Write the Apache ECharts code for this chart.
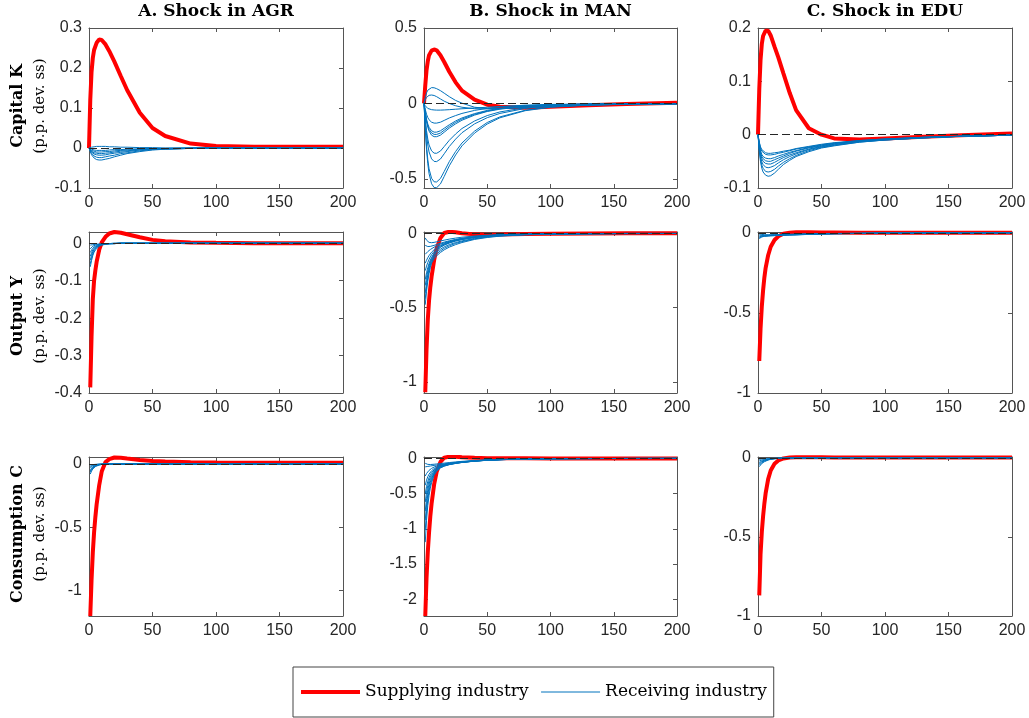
<!DOCTYPE html>
<html>
<head>
<meta charset="utf-8">
<title>Impulse responses</title>
<script src="https://cdn.jsdelivr.net/npm/echarts@6.0.0/dist/echarts.min.js"></script>
<style>
html, body { margin: 0; padding: 0; background: #fff; }
#chart { width: 1029px; height: 718px; }
</style>
</head>
<body>
<div id="chart"></div>
<script>
// periods: capital is plotted from 0, output and consumption from 1
const periodsK = [0, 1, 2, 3, 4, 6, 8, 10, 13, 16, 20, 25, 30, 40, 50, 60, 80, 100, 130, 160, 200];
const periods = [1, 2, 3, 4, 5, 6, 8, 10, 13, 16, 20, 25, 30, 40, 50, 60, 80, 100, 130, 160, 200];

const shockTitles = ['A. Shock in AGR', 'B. Shock in MAN', 'C. Shock in EDU'];
const rowTitles = ['Capital K', 'Output Y', 'Consumption C'];
const rowUnit = '(p.p. dev. ss)';

// y tick labels
const ticksKAgr = [-0.1, 0, 0.1, 0.2, 0.3];
const ticksKMan = [-0.5, 0, 0.5];
const ticksKEdu = [-0.1, 0, 0.1, 0.2];
const ticksYAgr = [-0.4, -0.3, -0.2, -0.1, 0];
const ticksYMan = [-1, -0.5, 0];
const ticksYEdu = [-1, -0.5, 0];
const ticksCAgr = [-1, -0.5, 0];
const ticksCMan = [-2, -1.5, -1, -0.5, 0];
const ticksCEdu = [-1, -0.5, 0];

// ---- Capital K ----
const kAgrSupply = [0, 0.12, 0.19, 0.225, 0.245, 0.263, 0.271, 0.27, 0.259, 0.242, 0.216, 0.18, 0.145, 0.088, 0.05, 0.03, 0.011, 0.005, 0.003, 0.003, 0.003];
const kAgrReceive = [
  [0, 0.001, 0.002, 0.003, 0.003, 0.004, 0.004, 0.004, 0.004, 0.003, 0.003, 0.002, 0.002, 0.001, 0.001, 0, 0, 0, 0, 0, 0],
  [0, -0.002, -0.003, -0.004, -0.005, -0.006, -0.006, -0.006, -0.006, -0.005, -0.004, -0.004, -0.003, -0.002, -0.001, -0.001, 0, 0, 0, 0, 0],
  [0, -0.003, -0.006, -0.007, -0.008, -0.01, -0.01, -0.01, -0.009, -0.009, -0.007, -0.006, -0.005, -0.003, -0.002, -0.001, 0, 0, 0, 0, 0],
  [0, -0.004, -0.008, -0.01, -0.012, -0.013, -0.014, -0.014, -0.013, -0.012, -0.01, -0.008, -0.007, -0.004, -0.003, -0.002, -0.001, 0, 0, 0, 0],
  [0, -0.005, -0.01, -0.013, -0.015, -0.017, -0.018, -0.018, -0.017, -0.015, -0.013, -0.011, -0.009, -0.005, -0.003, -0.002, -0.001, 0, 0, 0, 0],
  [0, -0.007, -0.013, -0.017, -0.02, -0.023, -0.024, -0.024, -0.022, -0.02, -0.018, -0.014, -0.012, -0.007, -0.004, -0.003, -0.001, 0, 0, 0, 0],
  [0, -0.009, -0.017, -0.022, -0.025, -0.029, -0.03, -0.03, -0.028, -0.026, -0.022, -0.018, -0.014, -0.009, -0.005, -0.003, -0.001, 0, 0, 0, 0]
];

const kManSupply = [0, 0.12, 0.22, 0.28, 0.32, 0.35, 0.358, 0.352, 0.32, 0.275, 0.21, 0.14, 0.085, 0.025, -0.008, -0.022, -0.028, -0.022, -0.012, -0.004, 0.004];
const kManReceive = [
  [0, 0.04, 0.07, 0.088, 0.098, 0.105, 0.104, 0.098, 0.085, 0.068, 0.045, 0.02, 0.002, -0.025, -0.033, -0.032, -0.025, -0.018, -0.01, -0.005, -0.002],
  [0, 0.025, 0.04, 0.05, 0.054, 0.056, 0.053, 0.045, 0.03, 0.015, 0, -0.015, -0.025, -0.035, -0.036, -0.034, -0.027, -0.02, -0.011, -0.005, -0.002],
  [0, -0.015, -0.026, -0.033, -0.037, -0.041, -0.043, -0.044, -0.044, -0.043, -0.041, -0.038, -0.035, -0.03, -0.025, -0.02, -0.014, -0.01, -0.006, -0.003, -0.001],
  [0, -0.039, -0.071, -0.093, -0.108, -0.124, -0.13, -0.13, -0.124, -0.112, -0.096, -0.08, -0.066, -0.046, -0.032, -0.022, -0.011, -0.006, -0.003, -0.001, -0.001],
  [0, -0.057, -0.104, -0.136, -0.158, -0.181, -0.19, -0.19, -0.181, -0.164, -0.141, -0.116, -0.096, -0.067, -0.046, -0.032, -0.016, -0.009, -0.004, -0.002, -0.001],
  [0, -0.062, -0.112, -0.147, -0.171, -0.195, -0.205, -0.205, -0.196, -0.177, -0.152, -0.125, -0.103, -0.072, -0.05, -0.035, -0.018, -0.009, -0.004, -0.002, -0.001],
  [0, -0.066, -0.12, -0.157, -0.183, -0.21, -0.22, -0.22, -0.21, -0.19, -0.163, -0.135, -0.111, -0.077, -0.053, -0.038, -0.019, -0.01, -0.004, -0.002, -0.001],
  [0, -0.099, -0.18, -0.236, -0.275, -0.314, -0.329, -0.33, -0.315, -0.285, -0.244, -0.202, -0.166, -0.116, -0.08, -0.056, -0.028, -0.015, -0.007, -0.003, -0.001],
  [0, -0.116, -0.21, -0.275, -0.321, -0.367, -0.384, -0.385, -0.368, -0.333, -0.285, -0.236, -0.194, -0.135, -0.094, -0.066, -0.033, -0.017, -0.008, -0.003, -0.002],
  [0, -0.156, -0.283, -0.372, -0.433, -0.496, -0.519, -0.52, -0.497, -0.45, -0.385, -0.318, -0.262, -0.183, -0.126, -0.089, -0.045, -0.023, -0.01, -0.005, -0.002],
  [0, -0.167, -0.304, -0.399, -0.465, -0.532, -0.557, -0.558, -0.533, -0.483, -0.413, -0.341, -0.281, -0.196, -0.136, -0.095, -0.048, -0.025, -0.011, -0.005, -0.002]
];

const kEduSupply = [0, 0.085, 0.14, 0.17, 0.185, 0.195, 0.195, 0.186, 0.165, 0.145, 0.115, 0.078, 0.046, 0.012, 0, -0.007, -0.009, -0.007, -0.004, -0.001, 0.002];
const kEduReceive = [
  [0, -0.014, -0.023, -0.028, -0.031, -0.034, -0.035, -0.035, -0.034, -0.033, -0.031, -0.029, -0.026, -0.022, -0.018, -0.015, -0.011, -0.008, -0.005, -0.003, -0.001],
  [0, -0.015, -0.025, -0.031, -0.034, -0.037, -0.038, -0.038, -0.037, -0.035, -0.033, -0.03, -0.027, -0.023, -0.019, -0.016, -0.011, -0.008, -0.005, -0.003, -0.001],
  [0, -0.018, -0.03, -0.037, -0.041, -0.044, -0.045, -0.045, -0.043, -0.04, -0.037, -0.033, -0.03, -0.024, -0.02, -0.016, -0.012, -0.009, -0.005, -0.003, -0.001],
  [0, -0.02, -0.033, -0.041, -0.045, -0.049, -0.05, -0.05, -0.047, -0.044, -0.04, -0.035, -0.031, -0.025, -0.021, -0.017, -0.012, -0.009, -0.005, -0.003, -0.001],
  [0, -0.022, -0.036, -0.045, -0.05, -0.054, -0.055, -0.055, -0.052, -0.048, -0.043, -0.038, -0.034, -0.027, -0.022, -0.018, -0.013, -0.009, -0.006, -0.003, -0.001],
  [0, -0.025, -0.041, -0.051, -0.056, -0.061, -0.062, -0.061, -0.058, -0.053, -0.047, -0.041, -0.036, -0.028, -0.023, -0.019, -0.013, -0.01, -0.006, -0.003, -0.001],
  [0, -0.028, -0.046, -0.057, -0.063, -0.069, -0.07, -0.069, -0.065, -0.059, -0.052, -0.045, -0.039, -0.03, -0.024, -0.02, -0.014, -0.01, -0.006, -0.003, -0.001],
  [0, -0.031, -0.051, -0.063, -0.07, -0.076, -0.078, -0.077, -0.072, -0.065, -0.056, -0.048, -0.041, -0.032, -0.025, -0.021, -0.014, -0.01, -0.006, -0.003, -0.001]
];

// ---- Output Y ----
const yAgrSupply = [-0.385, -0.25, -0.15, -0.1, -0.073, -0.05, -0.018, 0.002, 0.017, 0.026, 0.03, 0.028, 0.024, 0.016, 0.009, 0.005, 0.002, 0.001, 0, 0, 0];
const yAgrReceive = [
  [-0.005, -0.004, -0.004, -0.003, -0.003, -0.003, -0.002, -0.002, -0.001, -0.001, 0, 0, 0, 0, 0, 0, 0, 0, 0, 0, 0],
  [-0.015, -0.011, -0.008, -0.007, -0.005, -0.004, -0.003, -0.002, -0.001, -0.001, 0, 0, 0, 0, 0, 0, 0, 0, 0, 0, 0],
  [-0.025, -0.018, -0.013, -0.01, -0.008, -0.006, -0.004, -0.003, -0.002, -0.001, -0.001, 0, 0, 0, 0, 0, 0, 0, 0, 0, 0],
  [-0.035, -0.025, -0.018, -0.013, -0.01, -0.008, -0.005, -0.003, -0.002, -0.001, -0.001, 0, 0, 0, 0, 0, 0, 0, 0, 0, 0],
  [-0.045, -0.032, -0.023, -0.017, -0.012, -0.009, -0.006, -0.004, -0.002, -0.001, -0.001, 0, 0, 0, 0, 0, 0, 0, 0, 0, 0],
  [-0.055, -0.04, -0.028, -0.02, -0.015, -0.011, -0.007, -0.004, -0.002, -0.001, -0.001, 0, 0, 0, 0, 0, 0, 0, 0, 0, 0],
  [-0.063, -0.046, -0.033, -0.024, -0.018, -0.013, -0.008, -0.005, -0.003, -0.002, -0.001, 0, 0, 0, 0, 0, 0, 0, 0, 0, 0]
];

const yManSupply = [-1.07, -0.78, -0.58, -0.45, -0.36, -0.29, -0.18, -0.1, -0.03, 0.003, 0.012, 0.008, 0.002, -0.006, -0.008, -0.007, -0.004, -0.002, 0, 0.001, 0.002];
const yManReceive = [
  [-0.03, -0.045, -0.055, -0.06, -0.062, -0.062, -0.06, -0.056, -0.05, -0.045, -0.038, -0.031, -0.025, -0.017, -0.012, -0.008, -0.004, -0.002, -0.001, 0, 0],
  [-0.08, -0.085, -0.088, -0.088, -0.087, -0.085, -0.08, -0.074, -0.066, -0.058, -0.049, -0.04, -0.032, -0.021, -0.014, -0.01, -0.005, -0.002, -0.001, 0, 0],
  [-0.14, -0.13, -0.122, -0.115, -0.108, -0.102, -0.092, -0.083, -0.072, -0.063, -0.053, -0.043, -0.035, -0.023, -0.015, -0.01, -0.005, -0.003, -0.001, 0, 0],
  [-0.2, -0.18, -0.163, -0.149, -0.137, -0.126, -0.109, -0.095, -0.08, -0.068, -0.056, -0.045, -0.036, -0.024, -0.016, -0.011, -0.005, -0.003, -0.001, 0, 0],
  [-0.25, -0.22, -0.195, -0.175, -0.158, -0.143, -0.12, -0.103, -0.085, -0.072, -0.059, -0.047, -0.038, -0.025, -0.017, -0.011, -0.005, -0.003, -0.001, 0, 0],
  [-0.31, -0.265, -0.23, -0.202, -0.18, -0.161, -0.133, -0.113, -0.092, -0.077, -0.063, -0.05, -0.04, -0.026, -0.017, -0.012, -0.006, -0.003, -0.001, 0, 0],
  [-0.35, -0.295, -0.252, -0.218, -0.191, -0.169, -0.137, -0.115, -0.093, -0.078, -0.064, -0.051, -0.041, -0.027, -0.018, -0.012, -0.006, -0.003, -0.001, 0, 0],
  [-0.4, -0.33, -0.277, -0.236, -0.204, -0.178, -0.147, -0.126, -0.106, -0.09, -0.075, -0.061, -0.05, -0.033, -0.022, -0.015, -0.007, -0.003, -0.001, 0, 0],
  [-0.44, -0.36, -0.3, -0.253, -0.217, -0.188, -0.158, -0.138, -0.117, -0.1, -0.083, -0.067, -0.055, -0.036, -0.024, -0.016, -0.008, -0.004, -0.002, -0.001, 0],
  [-0.48, -0.39, -0.322, -0.27, -0.23, -0.2, -0.17, -0.15, -0.128, -0.11, -0.092, -0.075, -0.061, -0.04, -0.027, -0.018, -0.009, -0.004, -0.002, -0.001, 0]
];

const yEduSupply = [-0.8, -0.6, -0.46, -0.36, -0.28, -0.22, -0.14, -0.087, -0.045, -0.022, -0.006, 0.001, 0.003, 0.003, 0.002, 0.002, 0.001, 0.001, 0.001, 0.001, 0.001];
const yEduReceive = [
  [-0.005, -0.008, -0.01, -0.011, -0.012, -0.012, -0.012, -0.012, -0.011, -0.011, -0.01, -0.009, -0.008, -0.006, -0.005, -0.004, -0.003, -0.002, -0.001, -0.001, 0],
  [-0.012, -0.014, -0.015, -0.015, -0.015, -0.015, -0.015, -0.014, -0.013, -0.013, -0.012, -0.011, -0.01, -0.008, -0.006, -0.005, -0.003, -0.002, -0.001, -0.001, 0],
  [-0.02, -0.019, -0.018, -0.018, -0.018, -0.017, -0.017, -0.016, -0.015, -0.014, -0.013, -0.012, -0.011, -0.009, -0.007, -0.005, -0.003, -0.002, -0.001, -0.001, 0],
  [-0.026, -0.023, -0.021, -0.02, -0.019, -0.019, -0.018, -0.017, -0.016, -0.015, -0.014, -0.013, -0.012, -0.009, -0.007, -0.006, -0.004, -0.002, -0.001, -0.001, 0],
  [-0.031, -0.027, -0.024, -0.022, -0.021, -0.02, -0.019, -0.018, -0.017, -0.016, -0.015, -0.013, -0.012, -0.01, -0.008, -0.006, -0.004, -0.002, -0.001, -0.001, 0],
  [-0.036, -0.03, -0.026, -0.024, -0.022, -0.021, -0.02, -0.019, -0.018, -0.017, -0.015, -0.014, -0.013, -0.01, -0.008, -0.006, -0.004, -0.002, -0.001, -0.001, 0]
];

// ---- Consumption C ----
const cAgrSupply = [-1.2, -0.92, -0.7, -0.54, -0.42, -0.32, -0.17, -0.06, 0.015, 0.038, 0.051, 0.049, 0.043, 0.032, 0.024, 0.019, 0.013, 0.011, 0.01, 0.01, 0.01];
const cAgrReceive = [
  [-0.01, -0.007, -0.005, -0.004, -0.003, -0.002, -0.001, -0.001, 0, 0, 0, 0, 0, 0, 0, 0, 0, 0, 0, 0, 0],
  [-0.02, -0.014, -0.01, -0.007, -0.005, -0.004, -0.002, -0.001, -0.001, 0, 0, 0, 0, 0, 0, 0, 0, 0, 0, 0, 0],
  [-0.03, -0.021, -0.015, -0.011, -0.008, -0.006, -0.003, -0.002, -0.001, 0, 0, 0, 0, 0, 0, 0, 0, 0, 0, 0, 0],
  [-0.045, -0.032, -0.023, -0.016, -0.012, -0.009, -0.005, -0.002, -0.001, -0.001, 0, 0, 0, 0, 0, 0, 0, 0, 0, 0, 0],
  [-0.055, -0.039, -0.028, -0.02, -0.014, -0.01, -0.006, -0.003, -0.001, -0.001, 0, 0, 0, 0, 0, 0, 0, 0, 0, 0, 0],
  [-0.065, -0.046, -0.033, -0.023, -0.017, -0.012, -0.007, -0.004, -0.002, -0.001, 0, 0, 0, 0, 0, 0, 0, 0, 0, 0, 0],
  [-0.08, -0.056, -0.04, -0.029, -0.021, -0.015, -0.008, -0.004, -0.002, -0.001, 0, 0, 0, 0, 0, 0, 0, 0, 0, 0, 0]
];

const cManSupply = [-2.24, -1.7, -1.33, -1.05, -0.82, -0.64, -0.37, -0.19, -0.05, 0.01, 0.025, 0.024, 0.018, 0.009, 0.004, 0.002, 0.001, 0, 0, 0, 0];
const cManReceive = [
  [-0.07, -0.08, -0.085, -0.087, -0.087, -0.086, -0.083, -0.079, -0.073, -0.067, -0.059, -0.05, -0.042, -0.03, -0.021, -0.015, -0.008, -0.004, -0.002, -0.001, 0],
  [-0.12, -0.117, -0.114, -0.111, -0.108, -0.105, -0.1, -0.094, -0.086, -0.078, -0.068, -0.057, -0.047, -0.033, -0.023, -0.016, -0.008, -0.004, -0.002, -0.001, 0],
  [-0.25, -0.215, -0.19, -0.17, -0.154, -0.142, -0.123, -0.109, -0.094, -0.083, -0.071, -0.059, -0.049, -0.034, -0.024, -0.017, -0.008, -0.004, -0.002, -0.001, 0],
  [-0.38, -0.31, -0.26, -0.224, -0.196, -0.175, -0.145, -0.124, -0.104, -0.09, -0.076, -0.062, -0.051, -0.035, -0.024, -0.017, -0.008, -0.004, -0.002, -0.001, 0],
  [-0.5, -0.4, -0.325, -0.272, -0.233, -0.203, -0.162, -0.135, -0.11, -0.094, -0.078, -0.064, -0.052, -0.036, -0.025, -0.017, -0.009, -0.004, -0.002, -0.001, 0],
  [-0.62, -0.48, -0.385, -0.317, -0.268, -0.23, -0.178, -0.145, -0.116, -0.098, -0.081, -0.066, -0.054, -0.037, -0.025, -0.018, -0.009, -0.004, -0.002, -0.001, 0],
  [-0.75, -0.57, -0.45, -0.365, -0.303, -0.257, -0.193, -0.154, -0.121, -0.101, -0.083, -0.067, -0.055, -0.037, -0.026, -0.018, -0.009, -0.004, -0.002, -0.001, 0],
  [-0.88, -0.66, -0.515, -0.413, -0.339, -0.284, -0.208, -0.163, -0.126, -0.104, -0.085, -0.069, -0.056, -0.038, -0.026, -0.018, -0.009, -0.004, -0.002, -0.001, 0],
  [-1.02, -0.76, -0.585, -0.465, -0.378, -0.312, -0.223, -0.172, -0.131, -0.107, -0.087, -0.07, -0.057, -0.038, -0.026, -0.018, -0.009, -0.004, -0.002, -0.001, 0],
  [-1.19, -0.88, -0.67, -0.527, -0.423, -0.345, -0.24, -0.182, -0.136, -0.11, -0.089, -0.072, -0.058, -0.039, -0.027, -0.018, -0.009, -0.004, -0.002, -0.001, 0]
];

const cEduSupply = [-0.87, -0.61, -0.47, -0.37, -0.29, -0.225, -0.135, -0.08, -0.038, -0.017, -0.004, 0.002, 0.003, 0.003, 0.003, 0.002, 0.002, 0.002, 0.002, 0.002, 0.002];
const cEduReceive = [
  [-0.01, -0.009, -0.008, -0.007, -0.007, -0.006, -0.005, -0.004, -0.003, -0.003, -0.002, -0.002, -0.001, -0.001, -0.001, 0, 0, 0, 0, 0, 0],
  [-0.02, -0.017, -0.015, -0.013, -0.011, -0.01, -0.008, -0.006, -0.004, -0.003, -0.002, -0.002, -0.001, -0.001, -0.001, 0, 0, 0, 0, 0, 0],
  [-0.03, -0.025, -0.021, -0.018, -0.015, -0.013, -0.01, -0.007, -0.005, -0.004, -0.003, -0.002, -0.001, -0.001, -0.001, 0, 0, 0, 0, 0, 0],
  [-0.038, -0.031, -0.026, -0.022, -0.018, -0.015, -0.011, -0.008, -0.005, -0.004, -0.003, -0.002, -0.002, -0.001, -0.001, 0, 0, 0, 0, 0, 0],
  [-0.047, -0.038, -0.031, -0.026, -0.021, -0.018, -0.013, -0.009, -0.006, -0.004, -0.003, -0.002, -0.002, -0.001, -0.001, 0, 0, 0, 0, 0, 0],
  [-0.056, -0.045, -0.036, -0.03, -0.025, -0.02, -0.014, -0.01, -0.006, -0.004, -0.003, -0.002, -0.002, -0.001, -0.001, 0, 0, 0, 0, 0, 0]
];

// panels row by row (K, Y, C) and column by column (AGR, MAN, EDU)
const panels = [
  { t: periodsK, supply: kAgrSupply, receive: kAgrReceive, min: -0.1, max: 0.3, ticks: ticksKAgr },
  { t: periodsK, supply: kManSupply, receive: kManReceive, min: -0.56, max: 0.5, ticks: ticksKMan },
  { t: periodsK, supply: kEduSupply, receive: kEduReceive, min: -0.1, max: 0.2, ticks: ticksKEdu },
  { t: periods, supply: yAgrSupply, receive: yAgrReceive, min: -0.4, max: 0.03, ticks: ticksYAgr },
  { t: periods, supply: yManSupply, receive: yManReceive, min: -1.075, max: 0.01, ticks: ticksYMan },
  { t: periods, supply: yEduSupply, receive: yEduReceive, min: -1, max: 0.005, ticks: ticksYEdu },
  { t: periods, supply: cAgrSupply, receive: cAgrReceive, min: -1.2, max: 0.055, ticks: ticksCAgr },
  { t: periods, supply: cManSupply, receive: cManReceive, min: -2.24, max: 0.02, ticks: ticksCMan },
  { t: periods, supply: cEduSupply, receive: cEduReceive, min: -1, max: 0.005, ticks: ticksCEdu }
];

const colLeft = [89, 424, 758];
const colWidth = [254, 253, 254];
const rowTop = [28, 232, 457];
const rowHeight = [160, 161, 159];
const rowMid = [106, 316, 534];

const axisColor = '#555';
const labelColor = '#262626';
const sansFont = '"Liberation Sans", Arial, sans-serif';
const serifFont = '"DejaVu Serif", serif';
const RED = '#FF0000';
const BLUE = '#0072BD';

const grids = [], xAxes = [], yAxes = [], series = [], graphics = [];
const n = panels.length;

panels.forEach((p, i) => {
  const row = Math.floor(i / 3), col = i % 3;
  grids.push({ left: colLeft[col], top: rowTop[row], width: colWidth[col], height: rowHeight[row], containLabel: false });

  const lineStyle = { color: axisColor, width: 1 };
  // bottom and top x axes
  xAxes[i] = {
    type: 'value', gridIndex: i, min: 0, max: 200, interval: 50,
    axisLine: { show: true, onZero: false, lineStyle },
    axisTick: { show: true, inside: true, length: 4, lineStyle },
    axisLabel: { color: labelColor, fontSize: 16, fontFamily: sansFont, margin: 7 },
    splitLine: { show: false }
  };
  xAxes[n + i] = {
    type: 'value', gridIndex: i, position: 'top', min: 0, max: 200, interval: 50,
    axisLine: { show: true, onZero: false, lineStyle },
    axisTick: { show: true, inside: true, length: 4, lineStyle },
    axisLabel: { show: false }, splitLine: { show: false }
  };
  // left and right y axes
  yAxes[i] = {
    type: 'value', gridIndex: i, min: p.min, max: p.max,
    axisLine: { show: true, onZero: false, lineStyle },
    axisTick: { show: true, inside: true, length: 4, lineStyle, customValues: p.ticks },
    axisLabel: { color: labelColor, fontSize: 16, fontFamily: sansFont, margin: 7, customValues: p.ticks },
    splitLine: { show: false }
  };
  yAxes[n + i] = {
    type: 'value', gridIndex: i, position: 'right', min: p.min, max: p.max,
    axisLine: { show: true, onZero: false, lineStyle },
    axisTick: { show: true, inside: true, length: 4, lineStyle, customValues: p.ticks },
    axisLabel: { show: false }, splitLine: { show: false }
  };

  // dashed zero line
  series.push({
    type: 'line', xAxisIndex: i, yAxisIndex: i, data: [], silent: true,
    markLine: {
      silent: true, symbol: 'none', label: { show: false },
      lineStyle: { color: '#262626', width: 1, type: [8, 4] },
      data: [{ yAxis: 0 }]
    }
  });
  series.push({
    name: 'Supplying industry', type: 'line', xAxisIndex: i, yAxisIndex: i,
    showSymbol: false, symbol: 'none', silent: true,
    lineStyle: { color: RED, width: 4 }, itemStyle: { color: RED },
    data: p.t.map((t, k) => [t, p.supply[k]])
  });
  p.receive.forEach(vals => {
    series.push({
      name: 'Receiving industry', type: 'line', xAxisIndex: i, yAxisIndex: i,
      showSymbol: false, symbol: 'none', silent: true,
      lineStyle: { color: BLUE, width: 1 }, itemStyle: { color: BLUE },
      data: p.t.map((t, k) => [t, vals[k]])
    });
  });
});

shockTitles.forEach((txt, c) => {
  graphics.push({
    type: 'text', x: colLeft[c] + colWidth[c] / 2, y: 12,
    style: { text: txt, font: 'bold 17px ' + serifFont, fill: '#000', align: 'center', verticalAlign: 'middle' }
  });
});
rowTitles.forEach((txt, r) => {
  graphics.push({
    type: 'text', x: 18, y: rowMid[r], rotation: Math.PI / 2,
    style: { text: txt, font: 'bold 16px ' + serifFont, fill: '#000', align: 'center', verticalAlign: 'middle' }
  });
  graphics.push({
    type: 'text', x: 40, y: rowMid[r], rotation: Math.PI / 2,
    style: { text: rowUnit, font: '15px ' + serifFont, fill: '#000', align: 'center', verticalAlign: 'middle' }
  });
});

const chart = echarts.init(document.getElementById('chart'), null, { renderer: 'canvas' });
chart.setOption({
  animation: false,
  backgroundColor: '#fff',
  grid: grids,
  xAxis: xAxes,
  yAxis: yAxes,
  legend: {
    data: [
      { name: 'Supplying industry', lineStyle: { color: RED, width: 4 } },
      { name: 'Receiving industry', lineStyle: { color: BLUE, width: 1 } }
    ],
    left: 293, top: 667, orient: 'horizontal',
    itemWidth: 59, itemHeight: 4, itemGap: 12,
    padding: [15, 7, 15, 6],
    borderColor: '#444', borderWidth: 1, backgroundColor: '#fff',
    selectedMode: false,
    itemStyle: { opacity: 0 },
    textStyle: { fontFamily: serifFont, fontSize: 17, color: '#000', lineHeight: 20 }
  },
  graphic: graphics,
  series: series
});
</script>
</body>
</html>
